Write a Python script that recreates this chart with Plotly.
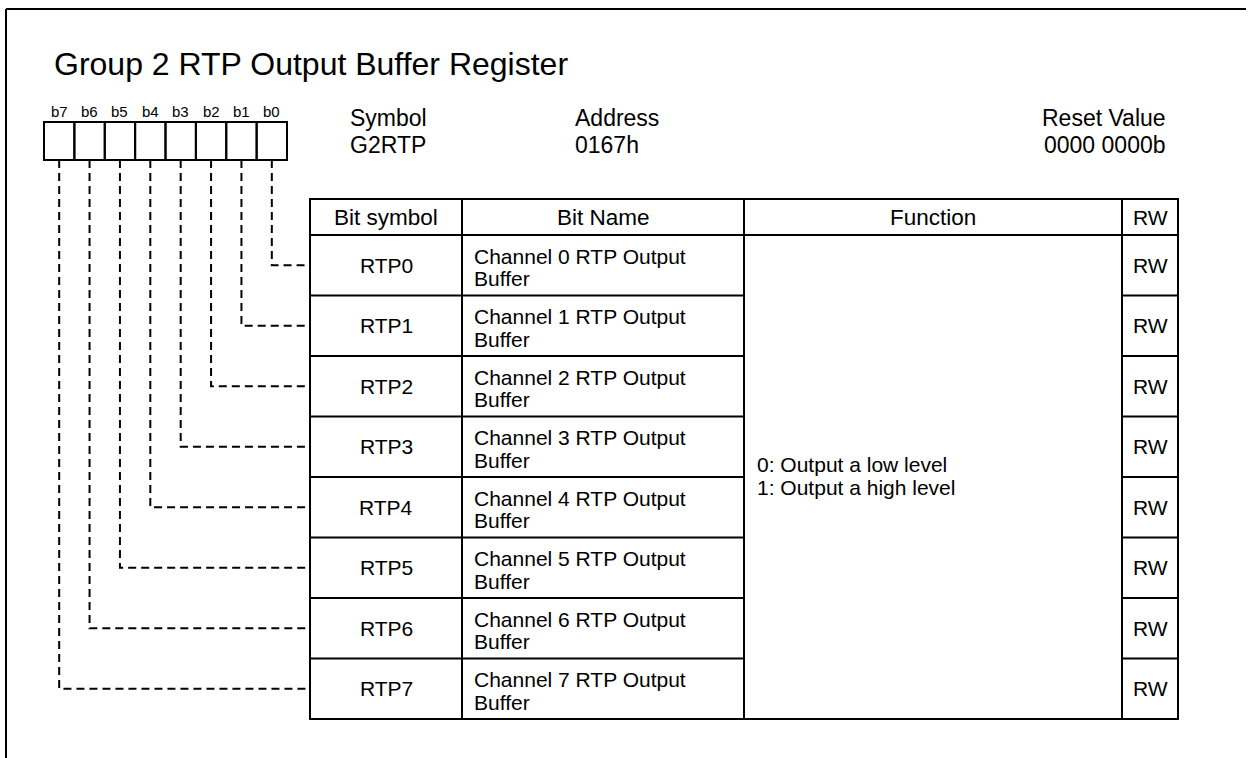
import plotly.graph_objects as go

# ---------------- data ----------------
title_text = "Group 2 RTP Output Buffer Register"
bit_labels = ["b7", "b6", "b5", "b4", "b3", "b2", "b1", "b0"]
info_headers = ["Symbol", "Address", "Reset Value"]
info_values = ["G2RTP", "0167h", "0000 0000b"]
col_headers = ["Bit symbol", "Bit Name", "Function", "RW"]
bit_symbols = ["RTP0", "RTP1", "RTP2", "RTP3", "RTP4", "RTP5", "RTP6", "RTP7"]
bit_names_l1 = ["Channel 0 RTP Output", "Channel 1 RTP Output", "Channel 2 RTP Output",
                "Channel 3 RTP Output", "Channel 4 RTP Output", "Channel 5 RTP Output",
                "Channel 6 RTP Output", "Channel 7 RTP Output"]
bit_names_l2 = ["Buffer"] * 8
function_lines = ["0: Output a low level", "1: Output a high level"]
rw_values = ["RW"] * 8

# ---------------- layout constants ----------------
W, H = 1250, 758
FIG_W = 1246
FONT = "Liberation Sans, Arial, sans-serif"
INK = "#000000"
LW = 2

box_x0, box_x1, box_y0, box_y1 = 44, 287, 122, 160
box_w = (box_x1 - box_x0) / len(bit_labels)

col_x = [310, 462, 744, 1122, 1178]
tbl_top, hdr_bot, tbl_bot = 199, 235, 719
row_h = (tbl_bot - hdr_bot) / len(bit_symbols)

shapes = []
ann = []

def text(x, y, s, size, xanchor="center"):
    ann.append(dict(x=x, y=y, xref="x", yref="y", text=s, showarrow=False,
                    xanchor=xanchor, yanchor="middle",
                    font=dict(family=FONT, size=size, color=INK)))

def line(x0, y0, x1, y1, dash="solid", w=LW):
    shapes.append(dict(type="line", xref="x", yref="y", x0=x0, y0=y0, x1=x1, y1=y1,
                       line=dict(color=INK, width=w, dash=dash)))

# outer frame (top and left visible; the rest runs off the page)
line(6, 9, FIG_W, 9)
line(6, 9, 6, H)

# title
text(52, 64, title_text, 32, "left")

# register info
text(348, 117.5, info_headers[0], 23, "left")
text(348, 144.5, info_values[0], 23, "left")
text(573, 117.5, info_headers[1], 23, "left")
text(573, 144.5, info_values[1], 23, "left")
text(1168, 117.5, info_headers[2], 23, "right")
text(1168, 144.5, info_values[2], 23, "right")

# bit boxes and labels
for i, lab in enumerate(bit_labels):
    x0 = box_x0 + i * box_w
    shapes.append(dict(type="rect", xref="x", yref="y", x0=x0, x1=x0 + box_w,
                       y0=box_y0, y1=box_y1, line=dict(color=INK, width=LW)))
    text(x0 + box_w / 2, 111, lab, 15)

# table grid
shapes.append(dict(type="rect", xref="x", yref="y", x0=col_x[0], x1=col_x[-1],
                   y0=tbl_top, y1=tbl_bot, line=dict(color=INK, width=LW)))
for cx in col_x[1:-1]:
    line(cx, tbl_top, cx, tbl_bot)
line(col_x[0], hdr_bot, col_x[-1], hdr_bot)
for r in range(1, len(bit_symbols)):
    y = hdr_bot + r * row_h
    line(col_x[0], y, col_x[2], y)
    line(col_x[3], y, col_x[4], y)

# headers
hdr_c = (tbl_top + hdr_bot) / 2
for j, h in enumerate(col_headers):
    text((col_x[j] + col_x[j + 1]) / 2, hdr_c, h, 22.5 if j < 3 else 21)

# rows
for r, sym in enumerate(bit_symbols):
    yc = hdr_bot + (r + 0.5) * row_h
    text((col_x[0] + col_x[1]) / 2, yc, sym, 21)
    text(472, yc - 9, bit_names_l1[r], 21, "left")
    text(472, yc + 13.5, bit_names_l2[r], 21, "left")
    text((col_x[3] + col_x[4]) / 2, yc, rw_values[r], 21)

# function text (merged cell)
text(755, 464.2, function_lines[0], 21, "left")
text(755, 487.5, function_lines[1], 21, "left")

# dashed connectors from bit boxes to rows
for r in range(len(bit_symbols)):
    i = len(bit_labels) - 1 - r           # b0 is rightmost box
    bx = box_x0 + (i + 0.5) * box_w
    yc = hdr_bot + (r + 0.5) * row_h
    shapes.append(dict(type="path", xref="x", yref="y",
                       path=f"M {bx},{box_y1} V {yc} H {col_x[0]}",
                       line=dict(color=INK, width=LW, dash="8px,5px")))

fig = go.Figure(go.Scatter(x=[], y=[], mode="markers", showlegend=False))
fig.update_layout(
    width=FIG_W, height=H, autosize=False,
    margin=dict(l=0, r=0, t=0, b=0, pad=0),
    paper_bgcolor="white", plot_bgcolor="white",
    xaxis=dict(range=[0, FIG_W], visible=False, fixedrange=True),
    yaxis=dict(range=[H, 0], visible=False, fixedrange=True),
    shapes=shapes, annotations=ann, showlegend=False,
)
fig.write_html("out.html", config={"displayModeBar": False},
               post_script="document.body.style.margin='0px';"
                           "document.body.style.overflow='hidden';")
